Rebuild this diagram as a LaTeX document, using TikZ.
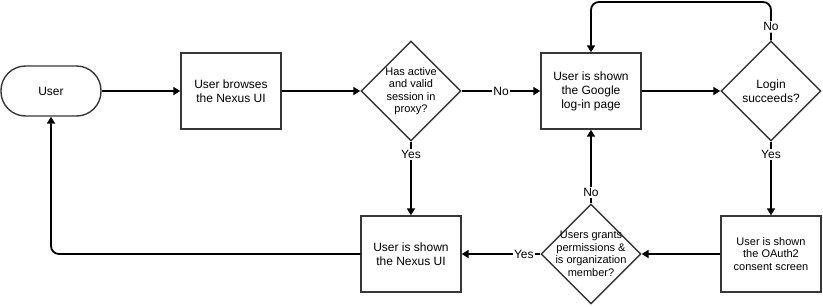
\documentclass[tikz,border=0pt]{standalone}
\usepackage{fontspec}
\setmainfont{Liberation Sans}
\usetikzlibrary{shapes.geometric,arrows.meta}
\definecolor{edge}{RGB}{54,54,54}
\begin{document}
\begin{tikzpicture}[x=1pt,y=-1pt,
  box/.style={draw=edge,line width=1.4pt,fill=white,rectangle,inner sep=0pt,
    minimum width=100pt,minimum height=76pt,align=center,
    font=\fontsize{12}{14}\selectfont},
  smallbox/.style={box,font=\fontsize{11}{12.5}\selectfont},
  pill/.style={box,minimum height=50pt,rounded corners=24.5pt},
  dia/.style={draw=edge,line width=1.4pt,fill=white,diamond,shape aspect=1,
    inner sep=0pt,minimum width=100pt,minimum height=100pt},
  diatext/.style={align=center,inner sep=0pt,font=\fontsize{11}{12.5}\selectfont},
  conn/.style={draw=black,line width=1.8pt,-{Triangle[length=7pt,width=8pt]}},
  lbl/.style={fill=white,inner sep=1.5pt,font=\fontsize{12}{14}\selectfont}]

\path[use as bounding box,fill=white] (0,0) rectangle (823,306);

% top row
\node[pill] (user) at (51,91) {User};
\node[box] (browse) at (231,91) {User browses\\the Nexus UI};
\node[dia] (proxy) at (411,91) {};
\node[diatext] (proxyt) at (proxy.center) {Has active\\and valid\\session in\\proxy?};
\node[box] (google) at (591,91) {User is shown\\the Google\\log-in page};
\node[dia] (login) at (771,91) {};
\node[align=center,inner sep=0pt,font=\fontsize{12}{14}\selectfont] (logint) at (login.center) {Login\\succeeds?};

% bottom row
\node[box] (nexus) at (411,254) {User is shown\\the Nexus UI};
\node[dia] (grant) at (591,254) {};
\node[diatext] (grantt) at (grant.center) {Users grants\\permissions \&\\is organization\\member?};
\node[smallbox] (oauth) at (771,254) {User is shown\\the OAuth2\\consent screen};

% connectors
\draw[conn] (user) -- (browse);
\draw[conn] (browse) -- (proxy);
\draw[conn] (proxy) -- node[lbl]{No} (google);
\draw[conn] (proxy) -- node[lbl,pos=0.17]{Yes} (nexus);
\draw[conn] (google) -- (login);
\coordinate (loopR) at (771,2);
\coordinate (loopL) at (591,2);
\draw[conn,rounded corners=8pt] (login.north) -- node[lbl,pos=0.35]{No} (loopR) -- (loopL) -- (google.north);
\draw[conn] (login) -- node[lbl,pos=0.17]{Yes} (oauth);
\draw[conn] (oauth) -- (grant);
\draw[conn] (grant) -- node[lbl,pos=0.15]{No} (google);
\draw[conn] (grant) -- node[lbl,pos=0.21]{Yes} (nexus);
\coordinate (back) at (51,254);
\draw[conn,rounded corners=8pt] (nexus.west) -- (back) -- (user.south);
\end{tikzpicture}
\end{document}
